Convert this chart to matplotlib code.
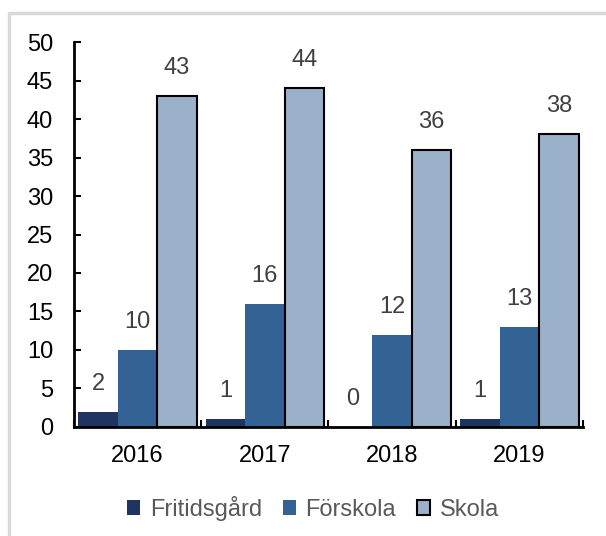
import numpy as np
import matplotlib.pyplot as plt
from matplotlib.lines import Line2D

plt.rcParams['font.family'] = ['Liberation Sans', 'DejaVu Sans']

years = ['2016', '2017', '2018', '2019']
series = ['Fritidsgård', 'Förskola', 'Skola']
fritidsgard = [2, 1, 0, 1]
forskola = [10, 16, 12, 13]
skola = [43, 44, 36, 38]

colors = ['#1f3461', '#336394', '#9bb1c9']
edges = ['none', 'none', 'black']

fig = plt.figure(figsize=(6.06, 5.36), dpi=100)
# light grey frame, only top and left edges visible
fig.lines.append(Line2D([9 / 606, 9 / 606, 1], [0, 1 - 13 / 536, 1 - 13 / 536],
                        transform=fig.transFigure, color='#d9d9d9', linewidth=2.5))
ax = fig.add_axes([0.1221, 0.2034, 0.8399, 0.7182])

x = np.arange(len(years))
w = 0.31
for i, (name, vals) in enumerate(zip(series, [fritidsgard, forskola, skola])):
    pos = x + (i - 1) * w
    ax.bar(pos, vals, w, color=colors[i], edgecolor=edges[i],
           linewidth=1.5 if edges[i] != 'none' else 0, label=name, zorder=2)
    for p, v in zip(pos, vals):
        ax.text(p, v + 2.2, str(v), ha='center', va='bottom',
                fontsize=17, color='#404040')

ax.set_xlim(-0.5, 3.5)
ax.set_ylim(0, 50)
ax.set_yticks(range(0, 51, 5))
ax.set_xticks(np.arange(-0.5, 4, 1))
ax.set_xticklabels([])
ax.set_xticks(x, minor=True)
ax.set_xticklabels(years, minor=True)
ax.tick_params(axis='x', which='minor', length=0, pad=13, labelsize=17)
ax.tick_params(axis='x', which='major', direction='in', length=5, width=1.5)
ax.tick_params(axis='y', direction='in', length=5, width=1.5, labelsize=17, pad=15)

for s in ['top', 'right']:
    ax.spines[s].set_visible(False)
for s in ['left', 'bottom']:
    ax.spines[s].set_linewidth(2)

leg = ax.legend(loc='upper center', bbox_to_anchor=(0.47, -0.148), ncol=3,
                frameon=False, fontsize=17, handlelength=0.55, handleheight=0.55,
                handletextpad=0.4, columnspacing=0.9, borderpad=0)
for t in leg.get_texts():
    t.set_color('#595959')

fig.savefig('out.png', dpi=100)
